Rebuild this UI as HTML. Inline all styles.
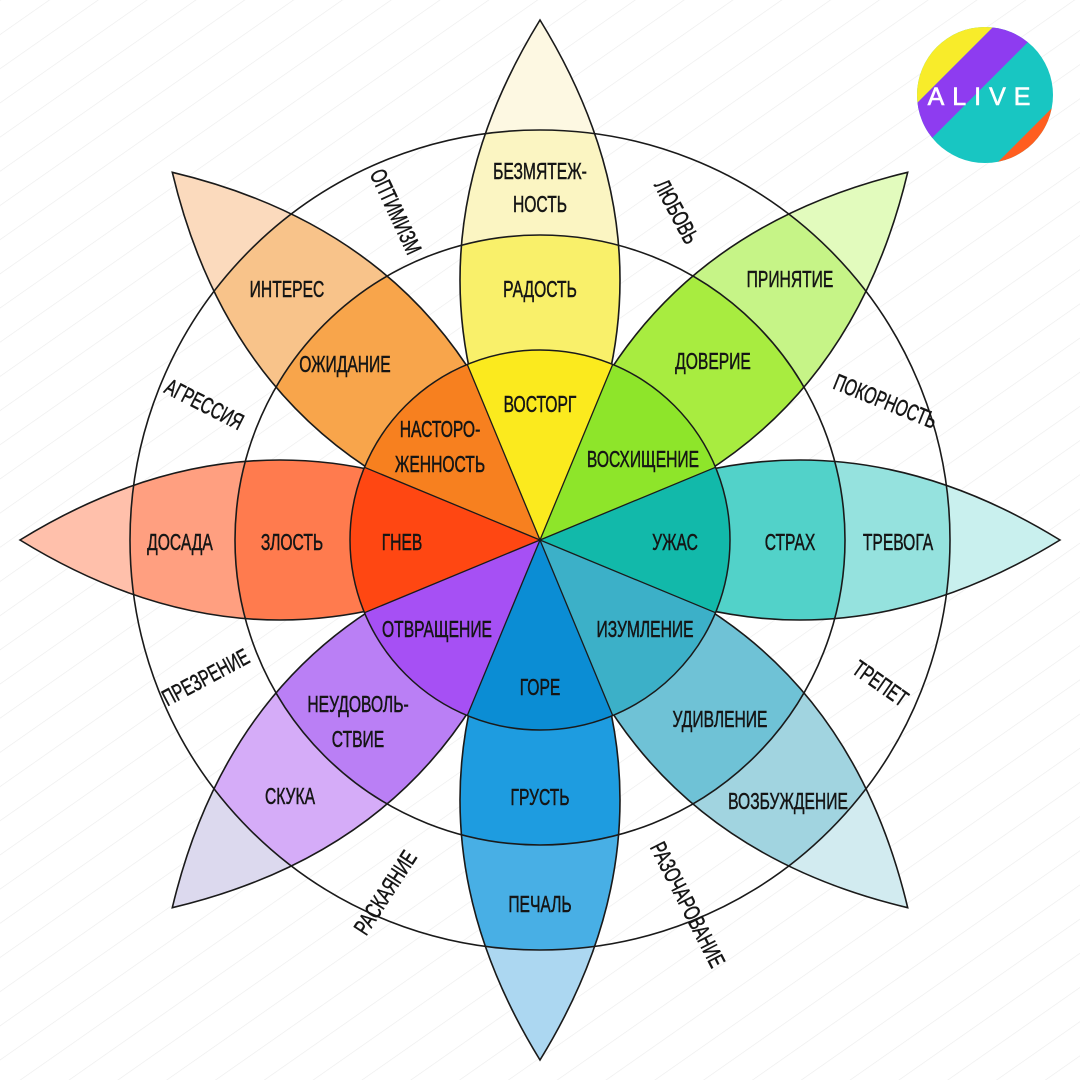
<!DOCTYPE html>
<html><head><meta charset="utf-8"><style>
html,body{margin:0;padding:0;background:#fff}
svg{display:block}
text{font-family:"Liberation Sans",sans-serif;font-size:23px;fill:#151515;stroke:#151515;stroke-width:0.5;text-anchor:middle;dominant-baseline:central}
</style></head><body>
<svg width="1080" height="1080" viewBox="0 0 1080 1080" xmlns="http://www.w3.org/2000/svg">
<defs>
<pattern id="bg" width="28" height="28" patternUnits="userSpaceOnUse" patternTransform="rotate(-35)">
<line x1="0" y1="0" x2="28" y2="0" stroke="#ececec" stroke-width="1.2"/>
</pattern>
<clipPath id="c410" clipPathUnits="userSpaceOnUse"><circle cx="0" cy="0" r="410"/></clipPath>
<clipPath id="c305" clipPathUnits="userSpaceOnUse"><circle cx="0" cy="0" r="305"/></clipPath>
<path id="lens" d="M0,0 Q260,-160 520,0 Q260,160 0,0Z"/>
<path id="wedge" d="M0,0 L175.5,-72.7 A190,190 0 0 1 175.5,72.7Z"/>
<clipPath id="lg" clipPathUnits="userSpaceOnUse"><circle cx="985" cy="95" r="68"/></clipPath>
</defs>
<rect width="1080" height="1080" fill="url(#bg)"/>

<g stroke="none">
<g transform="translate(540 540) rotate(-90)">
<use href="#lens" fill="#fdf8e2"/><use href="#lens" fill="#fbf5c2" clip-path="url(#c410)"/><use href="#lens" fill="#f9f06a" clip-path="url(#c305)"/></g>
<g transform="translate(540 540) rotate(-45)">
<use href="#lens" fill="#e2fbbd"/><use href="#lens" fill="#c6f487" clip-path="url(#c410)"/><use href="#lens" fill="#a8ec40" clip-path="url(#c305)"/></g>
<g transform="translate(540 540) rotate(0)">
<use href="#lens" fill="#c9f0ee"/><use href="#lens" fill="#95e2de" clip-path="url(#c410)"/><use href="#lens" fill="#52d2c9" clip-path="url(#c305)"/></g>
<g transform="translate(540 540) rotate(45)">
<use href="#lens" fill="#d2ebf0"/><use href="#lens" fill="#a1d4e0" clip-path="url(#c410)"/><use href="#lens" fill="#6fc2d6" clip-path="url(#c305)"/></g>
<g transform="translate(540 540) rotate(90)">
<use href="#lens" fill="#acd7f1"/><use href="#lens" fill="#48afe5" clip-path="url(#c410)"/><use href="#lens" fill="#1e9ce0" clip-path="url(#c305)"/></g>
<g transform="translate(540 540) rotate(135)">
<use href="#lens" fill="#dcd9ee"/><use href="#lens" fill="#d5acf8" clip-path="url(#c410)"/><use href="#lens" fill="#ba7ff5" clip-path="url(#c305)"/></g>
<g transform="translate(540 540) rotate(180)">
<use href="#lens" fill="#ffc0ab"/><use href="#lens" fill="#ff9f80" clip-path="url(#c410)"/><use href="#lens" fill="#ff7b4e" clip-path="url(#c305)"/></g>
<g transform="translate(540 540) rotate(225)">
<use href="#lens" fill="#fbdabd"/><use href="#lens" fill="#f8c38a" clip-path="url(#c410)"/><use href="#lens" fill="#f8a54b" clip-path="url(#c305)"/></g>
</g>

<g fill="none" stroke="#1a1a1a" stroke-width="1.6">
<circle cx="540" cy="540" r="410"/>
<circle cx="540" cy="540" r="305"/>
<g transform="translate(540 540)">
<use href="#lens" transform="rotate(-90)"/><use href="#lens" transform="rotate(-45)"/><use href="#lens" transform="rotate(0)"/><use href="#lens" transform="rotate(45)"/>
<use href="#lens" transform="rotate(90)"/><use href="#lens" transform="rotate(135)"/><use href="#lens" transform="rotate(180)"/><use href="#lens" transform="rotate(225)"/>
</g>
</g>

<g transform="translate(540 540)" stroke="none">
<use href="#wedge" fill="#fbea1e" transform="rotate(-90)"/>
<use href="#wedge" fill="#8ee52a" transform="rotate(-45)"/>
<use href="#wedge" fill="#12b9aa" transform="rotate(0)"/>
<use href="#wedge" fill="#3cb0c8" transform="rotate(45)"/>
<use href="#wedge" fill="#0b8dd4" transform="rotate(90)"/>
<use href="#wedge" fill="#a650f4" transform="rotate(135)"/>
<use href="#wedge" fill="#ff4712" transform="rotate(180)"/>
<use href="#wedge" fill="#f7801f" transform="rotate(225)"/>
</g>
<g fill="none" stroke="#1a1a1a" stroke-width="1.5">
<circle cx="540" cy="540" r="190"/>
<g transform="translate(540 540)" stroke-width="1.3">
<line x1="0" y1="0" x2="175.5" y2="72.7"/><line x1="0" y1="0" x2="175.5" y2="-72.7"/>
<line x1="0" y1="0" x2="-175.5" y2="72.7"/><line x1="0" y1="0" x2="-175.5" y2="-72.7"/>
<line x1="0" y1="0" x2="72.7" y2="175.5"/><line x1="0" y1="0" x2="-72.7" y2="175.5"/>
<line x1="0" y1="0" x2="72.7" y2="-175.5"/><line x1="0" y1="0" x2="-72.7" y2="-175.5"/>
</g>
</g>

<g>
<text transform="translate(540 172) scale(0.68 1)">БЕЗМЯТЕЖ-</text><text transform="translate(540 205) scale(0.68 1)">НОСТЬ</text>
<text transform="translate(540 290) scale(0.68 1)">РАДОСТЬ</text>
<text transform="translate(540 405) scale(0.68 1)">ВОСТОРГ</text>
<text transform="translate(790 280) scale(0.68 1)">ПРИНЯТИЕ</text>
<text transform="translate(713 362) scale(0.68 1)">ДОВЕРИЕ</text>
<text transform="translate(643 460) scale(0.68 1)">ВОСХИЩЕНИЕ</text>
<text transform="translate(898 543) scale(0.68 1)">ТРЕВОГА</text>
<text transform="translate(790 543) scale(0.68 1)">СТРАХ</text>
<text transform="translate(675 543) scale(0.68 1)">УЖАС</text>
<text transform="translate(788 802) scale(0.68 1)">ВОЗБУЖДЕНИЕ</text>
<text transform="translate(720 720) scale(0.68 1)">УДИВЛЕНИЕ</text>
<text transform="translate(645 630) scale(0.68 1)">ИЗУМЛЕНИЕ</text>
<text transform="translate(540 905) scale(0.68 1)">ПЕЧАЛЬ</text>
<text transform="translate(540 798) scale(0.68 1)">ГРУСТЬ</text>
<text transform="translate(540 688) scale(0.68 1)">ГОРЕ</text>
<text transform="translate(290 797) scale(0.68 1)">СКУКА</text>
<text transform="translate(358 705) scale(0.68 1)">НЕУДОВОЛЬ-</text><text transform="translate(358 740) scale(0.68 1)">СТВИЕ</text>
<text transform="translate(437 630) scale(0.68 1)">ОТВРАЩЕНИЕ</text>
<text transform="translate(180 543) scale(0.68 1)">ДОСАДА</text>
<text transform="translate(292 543) scale(0.68 1)">ЗЛОСТЬ</text>
<text transform="translate(402 543) scale(0.68 1)">ГНЕВ</text>
<text transform="translate(287 290) scale(0.68 1)">ИНТЕРЕС</text>
<text transform="translate(345 365) scale(0.68 1)">ОЖИДАНИЕ</text>
<text transform="translate(440 430) scale(0.68 1)">НАСТОРО-</text><text transform="translate(440 465) scale(0.68 1)">ЖЕННОСТЬ</text>

<text transform="translate(395 212) rotate(65) scale(0.68 1)">ОПТИМИЗМ</text>
<text transform="translate(676 212) rotate(62) scale(0.68 1)">ЛЮБОВЬ</text>
<text transform="translate(204 405) rotate(27) scale(0.68 1)">АГРЕССИЯ</text>
<text transform="translate(885 402) rotate(22) scale(0.68 1)">ПОКОРНОСТЬ</text>
<text transform="translate(206 678) rotate(-28) scale(0.68 1)">ПРЕЗРЕНИЕ</text>
<text transform="translate(880 684) rotate(35) scale(0.68 1)">ТРЕПЕТ</text>
<text transform="translate(386 893) rotate(-57) scale(0.68 1)">РАСКАЯНИЕ</text>
<text transform="translate(687 905) rotate(63) scale(0.68 1)">РАЗОЧАРОВАНИЕ</text>
</g>

<g clip-path="url(#lg)">
<rect x="917" y="27" width="136" height="136" fill="#18c6c2"/>
<polygon points="880,140 1010,10 1060,10 880,190" fill="#8e3cf0"/>
<polygon points="880,140 1010,10 880,10" fill="#f8ec2a"/>
<polygon points="1100,60 960,200 1100,200" fill="#ff5e1f"/>
</g>
<text x="983" y="97" style="fill:#fff;stroke:#fff;stroke-width:0.6;font-size:25px;letter-spacing:8px">ALIVE</text>
</svg>
</body></html>
